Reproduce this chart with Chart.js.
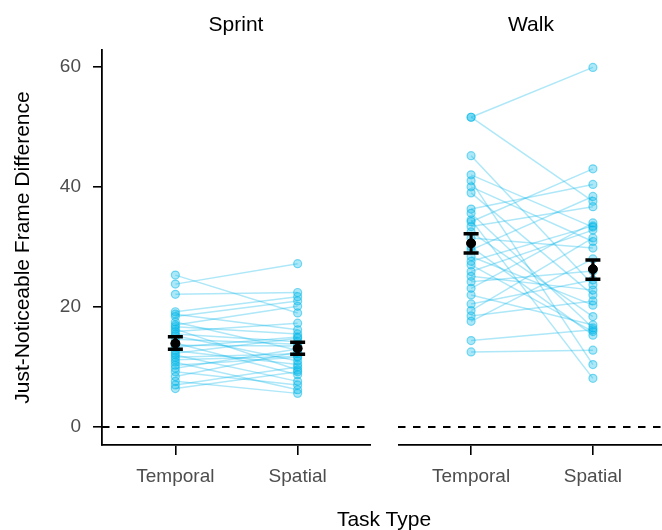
<!DOCTYPE html>
<html>
<head>
<meta charset="utf-8">
<script src="https://cdn.jsdelivr.net/npm/chart.js@4"></script>
<style>
  html, body { margin:0; padding:0; overflow:hidden; background:#fff; width:662px; height:530px; }
  #wrap { position:relative; width:662px; height:530px; overflow:hidden; }
  canvas { position:absolute; top:0; }
  .lbl { position:absolute; font-family:"Liberation Sans", Arial, sans-serif; color:#000; white-space:nowrap; transform:translate(-50%,-50%); line-height:1; }
</style>
</head>
<body>
<div id="wrap">
  <canvas id="c1" width="371" height="530" style="left:0px"></canvas>
  <canvas id="c2" width="268" height="530" style="left:398px"></canvas>
  <div class="lbl" id="f1" style="left:236px; top:23px; font-size:21px;"></div>
  <div class="lbl" id="f2" style="left:531px; top:23px; font-size:21px;"></div>
  <div class="lbl" id="xt" style="left:384px; top:518px; font-size:21px;"></div>
</div>
<script>
// ---- data ----
const categories = ['Temporal', 'Spatial'];
const facets = ['Sprint', 'Walk'];
const xTitle = 'Task Type';
const yTitle = 'Just-Noticeable Frame Difference';
const yTicks = [0, 20, 40, 60];
const refValue = 0;

const sprintTemporal = [25.3, 23.8, 22.1, 19.2, 18.8, 18.4, 17.5, 17.0, 16.7, 16.3, 15.9, 15.5, 15.2, 14.6, 14.0, 13.6, 13.3, 12.7, 12.3, 12.0, 11.6, 11.2, 10.8, 10.3, 9.8, 9.2, 8.4, 7.6, 7.0, 6.4];
const sprintSpatial  = [19.0, 27.2, 22.4, 21.7, 16.2, 21.0, 12.8, 20.1, 15.5, 9.5, 17.3, 14.2, 11.0, 13.8, 8.7, 13.5, 15.0, 10.4, 14.8, 7.6, 12.2, 11.8, 6.2, 11.6, 13.0, 7.0, 12.5, 5.6, 10.0, 9.2];

const walkTemporal = [51.6, 51.6, 45.2, 42.0, 41.0, 40.0, 39.0, 36.3, 35.6, 34.5, 34.2, 33.4, 32.5, 31.5, 30.0, 29.5, 28.4, 27.6, 27.0, 25.9, 25.1, 24.2, 23.1, 22.0, 20.5, 19.4, 18.5, 17.6, 14.4, 12.5];
const walkSpatial  = [59.9, 37.6, 23.7, 33.3, 10.4, 30.9, 22.0, 40.4, 16.5, 8.1, 43.0, 36.7, 18.4, 29.8, 15.3, 38.4, 20.3, 33.5, 15.9, 32.8, 22.8, 26.0, 34.0, 17.0, 24.5, 31.5, 21.0, 28.0, 16.2, 12.8];

const sprintMean  = [13.9, 13.1];
const sprintLower = [12.95, 12.1];
const sprintUpper = [15.05, 14.1];
const walkMean  = [30.6, 26.3];
const walkLower = [29.0, 24.6];
const walkUpper = [32.2, 27.8];

// ---- styles ----
const FONT = '"Liberation Sans", Arial, sans-serif';
const lineColor = 'rgba(0,180,232,0.32)';
const ptFill = 'rgba(0,184,232,0.32)';
const ptBorder = 'rgba(0,184,232,0.5)';

document.getElementById('f1').textContent = facets[0];
document.getElementById('f2').textContent = facets[1];
document.getElementById('xt').textContent = xTitle;

const errorBarPlugin = {
  id: 'errbars',
  afterDatasetsDraw(chart, args, opts) {
    const { ctx, scales: { x, y } } = chart;
    ctx.save();
    ctx.strokeStyle = '#000';
    opts.mean.forEach((m, i) => {
      const px = x.getPixelForValue(i + 1);
      const yl = y.getPixelForValue(opts.lower[i]);
      const yu = y.getPixelForValue(opts.upper[i]);
      ctx.lineWidth = 3;
      ctx.beginPath();
      ctx.moveTo(px, yl); ctx.lineTo(px, yu);
      ctx.stroke();
      ctx.lineWidth = 3.5;
      ctx.beginPath();
      ctx.moveTo(px - 7.5, yl); ctx.lineTo(px + 7.5, yl);
      ctx.moveTo(px - 7.5, yu); ctx.lineTo(px + 7.5, yu);
      ctx.stroke();
      ctx.beginPath();
      ctx.fillStyle = '#000';
      ctx.arc(px, y.getPixelForValue(m), 4.5, 0, Math.PI * 2);
      ctx.fill();
    });
    ctx.restore();
  }
};

function makeChart(id, temporal, spatial, mean, lower, upper, showY) {
  const datasets = [];
  datasets.push({
    type: 'scatter',
    data: mean.map((m, i) => ({ x: i + 1, y: m })),
    pointRadius: 4.5, pointBackgroundColor: '#000', pointBorderColor: '#000', showLine: false
  });
  temporal.forEach((t, i) => {
    datasets.push({
      type: 'line',
      data: [{ x: 1, y: t }, { x: 2, y: spatial[i] }],
      borderColor: lineColor, borderWidth: 1.5,
      pointRadius: 4, pointBackgroundColor: ptFill, pointBorderColor: ptBorder, pointBorderWidth: 1.2,
      tension: 0
    });
  });
  datasets.push({
    type: 'line',
    data: [{ x: 0.4, y: refValue }, { x: 2.6, y: refValue }],
    borderColor: '#000', borderWidth: 1.8, borderDash: [7.5, 7.5], pointRadius: 0
  });

  return new Chart(document.getElementById(id), {
    type: 'line',
    data: { datasets },
    plugins: [errorBarPlugin],
    options: {
      responsive: false,
      animation: false,
      events: [],
      layout: { autoPadding: false, padding: { top: 50, left: 0, right: 0, bottom: 0 } },
      plugins: {
        legend: { display: false },
        tooltip: { enabled: false },
        errbars: { mean, lower, upper }
      },
      scales: {
        x: {
          type: 'linear', min: 0.4, max: 2.6,
          afterBuildTicks: s => { s.ticks = categories.map((c, i) => ({ value: i + 1 })); },
          afterFit: s => { s.height = 85; s.paddingLeft = 0; s.paddingRight = 0; },
          ticks: {
            callback: v => categories[Math.round(v) - 1],
            color: '#4d4d4d', font: { family: FONT, size: 19 }, padding: 10, maxRotation: 0
          },
          grid: { drawOnChartArea: false, drawTicks: true, tickLength: 10, color: '#000', lineWidth: 1.6 },
          border: { display: true, color: '#000', width: 1.8 }
        },
        y: {
          type: 'linear', min: -3.0, max: 62.8,
          display: showY,
          afterBuildTicks: s => { s.ticks = yTicks.map(v => ({ value: v })); },
          afterFit: s => { if (showY) { s.width = 102; } else { s.width = 0; } s.paddingTop = 0; s.paddingBottom = 0; },
          ticks: { color: '#4d4d4d', font: { family: FONT, size: 19 }, padding: 12 },
          grid: { drawOnChartArea: false, drawTicks: true, tickLength: 9, color: '#000', lineWidth: 1.6 },
          border: { display: true, color: '#000', width: 1.8 },
          title: { display: true, text: yTitle, color: '#000', font: { family: FONT, size: 21 }, padding: { top: 11, bottom: 0 } }
        }
      }
    }
  });
}

makeChart('c1', sprintTemporal, sprintSpatial, sprintMean, sprintLower, sprintUpper, true);
makeChart('c2', walkTemporal, walkSpatial, walkMean, walkLower, walkUpper, false);
</script>
</body>
</html>
